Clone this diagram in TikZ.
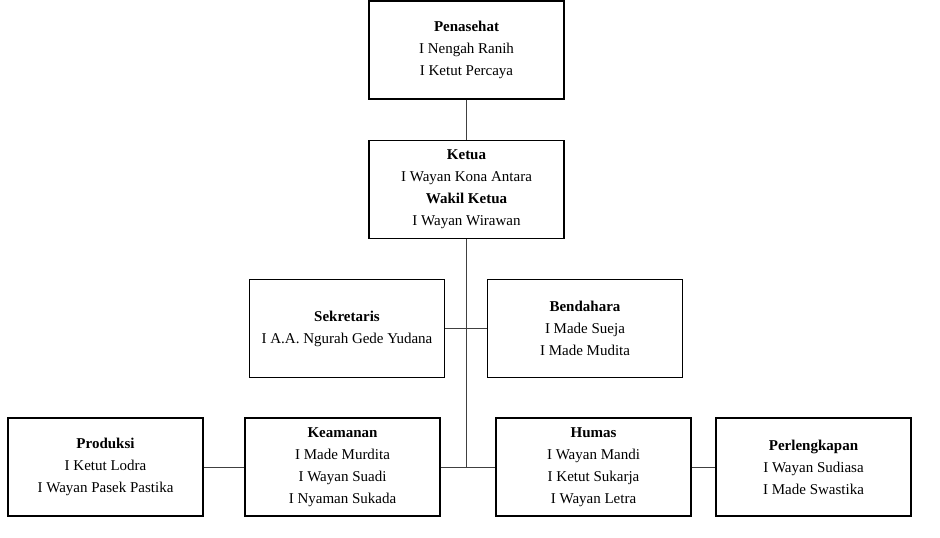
\documentclass[tikz,border=0pt]{standalone}
\usepackage{fontspec}
\setmainfont{Liberation Serif}

\begin{document}
\begin{tikzpicture}[
    x=1pt, y=-1pt,
    every node/.style={font=\fontsize{15}{22}\selectfont},
    unit/.style={
        draw=black,
        line width=1.1pt,
        minimum width=195pt,
        minimum height=98pt,
        inner sep=0pt,
        text=black,
        align=center,
        anchor=center,
    },
    link/.style={
        draw=black!75,
        line width=1pt,
    },
]

% Canvas
\useasboundingbox (0, 0) rectangle (940, 538);

% Column positions
\def\xMid{466.5}
\def\xSek{347}
\def\xBen{585}
\def\xPro{105.5}
\def\xKea{342.5}
\def\xHum{593.5}
\def\xPer{813.5}

% Row positions
\def\yA{50}
\def\yB{189.5}
\def\yC{328.5}
\def\yD{467}

% --- Pengurus inti ---
\node[unit] (pen) at (\xMid, \yA)
    {\textbf{Penasehat}\\I Nengah Ranih\\I Ketut Percaya};
\node[unit] (ket) at (\xMid, \yB)
    {\textbf{Ketua}\\I Wayan Kona Antara\\\textbf{Wakil Ketua}\\I Wayan Wirawan};

% --- Sekretaris dan Bendahara ---
\node[unit] (sek) at (\xSek, \yC)
    {\textbf{Sekretaris}\\I A.A. Ngurah Gede Yudana};
\node[unit] (ben) at (\xBen, \yC)
    {\textbf{Bendahara}\\I Made Sueja\\I Made Mudita};

% --- Seksi-seksi ---
\node[unit] (pro) at (\xPro, \yD)
    {\textbf{Produksi}\\I Ketut Lodra\\I Wayan Pasek Pastika};
\node[unit] (kea) at (\xKea, \yD)
    {\textbf{Keamanan}\\I Made Murdita\\I Wayan Suadi\\I Nyaman Sukada};
\node[unit] (hum) at (\xHum, \yD)
    {\textbf{Humas}\\I Wayan Mandi\\I Ketut Sukarja\\I Wayan Letra};
\node[unit] (per) at (\xPer, \yD)
    {\textbf{Perlengkapan}\\I Wayan Sudiasa\\I Made Swastika};

% Garis penghubung
\coordinate (jct) at (ket.south |- hum.west);
\draw[link] (pen.south) -- (ket.north);
\draw[link] (ket.south) -- (jct);
\draw[link] (sek.east) -- (ben.west);
\draw[link] (pro.east) -- (kea.west);
\draw[link] (kea.east) -- (hum.west);
\draw[link] (hum.east) -- (per.west);

\end{tikzpicture}
\end{document}
